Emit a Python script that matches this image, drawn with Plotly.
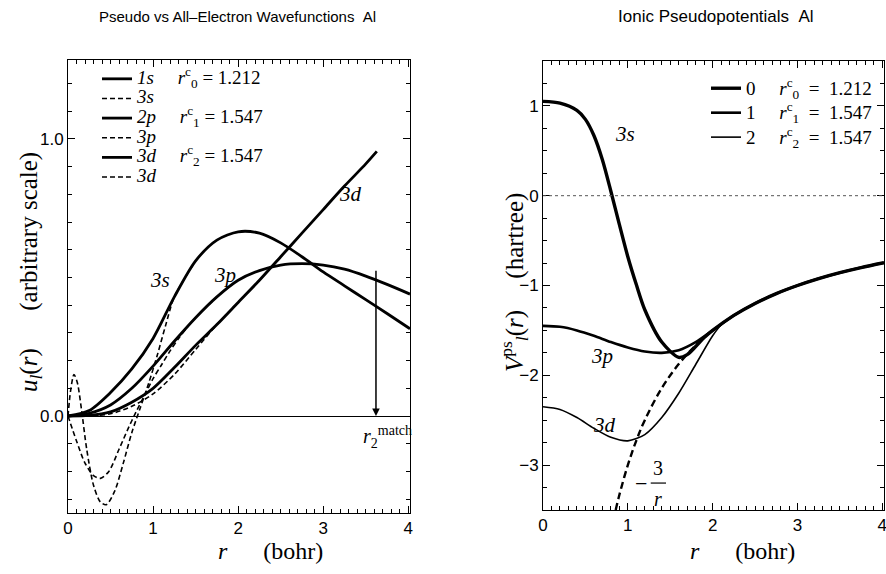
import plotly.graph_objects as go

# ---------------- Left panel: wavefunctions u_l(r) ----------------
r_3s_ps = [0, 0.25, 0.5, 0.75, 1.0, 1.25, 1.5, 1.75, 2.0, 2.25, 2.5, 2.75, 3.0, 3.25, 3.5, 3.75, 4.02]
u_3s_ps = [0, 0.02, 0.085, 0.17, 0.28, 0.43, 0.56, 0.635, 0.665, 0.66, 0.625, 0.575, 0.52, 0.47, 0.42, 0.37, 0.315]

r_3p_ps = [0, 0.25, 0.5, 0.75, 1.0, 1.25, 1.5, 1.75, 2.0, 2.25, 2.5, 2.75, 3.0, 3.25, 3.5, 3.75, 4.02]
u_3p_ps = [0, 0.01, 0.04, 0.1, 0.18, 0.27, 0.355, 0.43, 0.49, 0.525, 0.545, 0.55, 0.545, 0.53, 0.505, 0.475, 0.44]

r_3d_ps = [0, 0.25, 0.5, 0.75, 1.0, 1.25, 1.5, 1.75, 2.0, 2.25, 2.5, 2.75, 3.0, 3.25, 3.5, 3.63]
u_3d_ps = [0, 0.002, 0.015, 0.05, 0.1, 0.175, 0.255, 0.33, 0.41, 0.49, 0.575, 0.66, 0.745, 0.83, 0.91, 0.955]

r_3s_ae = [0, 0.03, 0.07, 0.11, 0.16, 0.22, 0.3, 0.38, 0.45, 0.55, 0.65, 0.75, 0.85, 0.95, 1.05, 1.15, 1.25, 1.5]
u_3s_ae = [0, 0.09, 0.15, 0.12, 0.02, -0.12, -0.25, -0.31, -0.32, -0.27, -0.17, -0.06, 0.03, 0.12, 0.22, 0.33, 0.43, 0.56]

r_3p_ae = [0, 0.1, 0.2, 0.3, 0.38, 0.48, 0.6, 0.7, 0.8, 0.9, 1.0, 1.1, 1.2, 1.3, 1.4, 1.5, 1.75]
u_3p_ae = [0, -0.09, -0.17, -0.215, -0.225, -0.2, -0.12, -0.05, 0.015, 0.075, 0.135, 0.185, 0.235, 0.28, 0.32, 0.355, 0.43]

r_3d_ae = [0, 0.25, 0.5, 0.75, 1.0, 1.25, 1.5, 1.75, 2.0]
u_3d_ae = [0, 0.0, 0.008, 0.035, 0.08, 0.15, 0.24, 0.33, 0.41]

NB = "\u00a0"
left_names = [
    f"<i>1s</i>{NB*5}<i>r</i><sup>c</sup><sub>0</sub>{NB}={NB}1.212",
    "<i>3s</i>",
    f"<i>2p</i>{NB*5}<i>r</i><sup>c</sup><sub>1</sub>{NB}={NB}1.547",
    "<i>3p</i>",
    f"<i>3d</i>{NB*5}<i>r</i><sup>c</sup><sub>2</sub>{NB}={NB}1.547",
    "<i>3d</i>",
]

# ---------------- Right panel: ionic pseudopotentials ----------------
r_v0 = [0, 0.2, 0.4, 0.5, 0.6, 0.7, 0.8, 0.9, 1.0, 1.1, 1.2, 1.4, 1.6, 1.7, 1.8, 1.9, 2.0, 2.25, 2.5, 2.75, 3.0, 3.25, 3.5, 3.75, 4.02]
v0 = [1.05, 1.03, 0.95, 0.85, 0.67, 0.4, 0.05, -0.32, -0.68, -0.99, -1.27, -1.63, -1.8, -1.77, -1.68, -1.58, -1.5, -1.333, -1.2, -1.09, -1.0, -0.923, -0.857, -0.8, -0.746]

r_v1 = [0, 0.2, 0.4, 0.6, 0.8, 1.0, 1.2, 1.4, 1.6, 1.8, 2.0, 2.25, 2.5, 2.75, 3.0, 3.25, 3.5, 3.75, 4.02]
v1 = [-1.45, -1.46, -1.5, -1.56, -1.63, -1.69, -1.735, -1.75, -1.72, -1.63, -1.5, -1.333, -1.2, -1.09, -1.0, -0.923, -0.857, -0.8, -0.746]

r_v2 = [0, 0.2, 0.4, 0.6, 0.8, 1.0, 1.2, 1.4, 1.6, 1.8, 2.0, 2.1, 2.25, 2.5, 2.75, 3.0, 3.25, 3.5, 3.75, 4.02]
v2 = [-2.35, -2.38, -2.47, -2.59, -2.69, -2.73, -2.66, -2.47, -2.2, -1.88, -1.56, -1.44, -1.335, -1.2, -1.09, -1.0, -0.923, -0.857, -0.8, -0.746]

r_coul = [0.857, 0.9, 1.0, 1.1, 1.2, 1.4, 1.6, 1.8, 2.0]
v_coul = [-3.5, -3.333, -3.0, -2.727, -2.5, -2.143, -1.875, -1.667, -1.5]

right_names = [
    f"0{NB*5}<i>r</i><sup>c</sup><sub>0</sub>{NB*2}={NB*2}1.212",
    f"1{NB*5}<i>r</i><sup>c</sup><sub>1</sub>{NB*2}={NB*2}1.547",
    f"2{NB*5}<i>r</i><sup>c</sup><sub>2</sub>{NB*2}={NB*2}1.547",
]

W, H = 886, 574
SERIF = "Liberation Serif, Times New Roman, serif"
SANS = "Liberation Sans, Arial, sans-serif"
NARROW = "Liberation Sans Narrow, Liberation Sans, Arial, sans-serif"


def span(t, size=19):
    return f"<span style='font-size:{size}px'>{t}</span>"


fig = go.Figure()

left_sets = [
    (r_3s_ps, u_3s_ps, 2.8, "solid"),
    (r_3s_ae, u_3s_ae, 1.6, "5px,3px"),
    (r_3p_ps, u_3p_ps, 2.8, "solid"),
    (r_3p_ae, u_3p_ae, 1.6, "5px,3px"),
    (r_3d_ps, u_3d_ps, 2.8, "solid"),
    (r_3d_ae, u_3d_ae, 1.6, "5px,3px"),
]
for (xs, ys, w, d), nm in zip(left_sets, left_names):
    fig.add_trace(go.Scatter(
        x=xs, y=ys, mode="lines", name=span(nm),
        line=dict(color="black", width=w, dash=d, shape="spline", smoothing=0.8),
        xaxis="x", yaxis="y", legend="legend", hoverinfo="skip"))

right_sets = [(r_v0, v0, 3.4), (r_v1, v1, 2.6), (r_v2, v2, 1.6)]
for (xs, ys, w), nm in zip(right_sets, right_names):
    fig.add_trace(go.Scatter(
        x=xs, y=ys, mode="lines", name=span(nm),
        line=dict(color="black", width=w, shape="spline", smoothing=0.8),
        xaxis="x2", yaxis="y2", legend="legend2", hoverinfo="skip"))

fig.add_trace(go.Scatter(
    x=r_coul, y=v_coul, mode="lines", showlegend=False,
    line=dict(color="black", width=2.4, dash="7px,4px", shape="spline"),
    xaxis="x2", yaxis="y2", hoverinfo="skip"))

axis_common = dict(
    showline=True, linecolor="black", linewidth=1, mirror="ticks",
    ticks="inside", ticklen=7, tickwidth=1, tickcolor="black",
    showgrid=False, automargin=False, ticklabeloverflow="allow",
    tickfont=dict(family=NARROW, size=17, color="black"),
)


def minor(dt):
    return dict(ticks="inside", ticklen=4, tickwidth=1, tickcolor="black", dtick=dt, showgrid=False)


fig.update_layout(
    width=W, height=H,
    margin=dict(l=0, r=0, t=0, b=0),
    plot_bgcolor="white", paper_bgcolor="white",
    xaxis=dict(domain=[68 / W, 410 / W], range=[0, 4.02], dtick=1, tick0=0,
               minor=minor(0.1), zeroline=False, anchor="y", **axis_common),
    yaxis=dict(domain=[1 - 513 / H, 1 - 60 / H], range=[-0.35, 1.285], dtick=1, tick0=0,
               tickformat=".1f", minor=minor(0.1), zeroline=True, zerolinecolor="black",
               zerolinewidth=1, anchor="x", **axis_common),
    xaxis2=dict(domain=[543 / W, 884 / W], range=[0, 4.02], dtick=1, tick0=0,
                minor=minor(0.1), zeroline=False, anchor="y2", **axis_common),
    yaxis2=dict(domain=[1 - 510 / H, 1 - 61 / H], range=[-3.5, 1.5], dtick=1, tick0=0,
                minor=minor(0.25), zeroline=False, anchor="x2", **axis_common),
    legend=dict(x=97 / W, y=1 - 64 / H, xanchor="left", yanchor="top",
                bgcolor="rgba(0,0,0,0)", font=dict(family=SERIF, size=12.8, color="black"),
                tracegroupgap=0),
    legend2=dict(x=706 / W, y=1 - 71 / H, xanchor="left", yanchor="top",
                 bgcolor="rgba(0,0,0,0)", font=dict(family=SERIF, size=16.5, color="black"),
                 tracegroupgap=0),
    showlegend=True,
)

# dotted zero line in right panel
fig.add_shape(type="line", xref="x2 domain", x0=0, x1=1, yref="y2", y0=0, y1=0,
              line=dict(color="#555555", width=1, dash="dot"))


def A(text, x, y, size, family=SERIF, xref="paper", yref="paper", **kw):
    d = dict(text=text, x=x, y=y, xref=xref, yref=yref, showarrow=False,
             xanchor="center", yanchor="middle",
             font=dict(family=family, size=size, color="black"))
    d.update(kw)
    return d


ann = []
# titles
ann.append(A("Pseudo vs All\u2013Electron Wavefunctions\u00a0\u00a0Al", 237 / W, 1 - 17 / H, 15, SANS))
ann.append(A("Ionic Pseudopotentials\u00a0\u00a0Al", 716 / W, 1 - 17 / H, 17, SANS))
# axis titles
ann.append(A(f"<i>r</i>{NB*6}(bohr)", 270 / W, 1 - 551 / H, 24))
ann.append(A(f"<i>r</i>{NB*6}(bohr)", 742 / W, 1 - 551 / H, 24))
ann.append(A(f"<i>u<sub>l</sub></i>(<i>r</i>){NB*6}(arbitrary scale)", 30 / W, 1 - 272 / H, 25,
             textangle=-90))
ann.append(A(f"<i>V</i><sup>ps</sup><sub><i>l</i></sub>(<i>r</i>){NB*5}(hartree)", 514 / W, 1 - 283 / H, 25,
             textangle=-90))

# curve labels, left
for t, x, y in [("3s", 1.08, 0.49), ("3p", 1.85, 0.51), ("3d", 3.32, 0.80)]:
    ann.append(A(f"<i>{t}</i>", x, y, 21, xref="x", yref="y"))
# r_match arrow
ann.append(dict(x=3.62, y=0.0, ax=3.62, ay=0.53, xref="x", yref="y", axref="x", ayref="y",
                text="", showarrow=True, arrowhead=2, arrowsize=1, arrowwidth=1.5, arrowcolor="black"))
ann.append(A("<i>r</i><sub>2</sub><sup>match</sup>", 3.76, -0.075, 20, xref="x", yref="y"))

# curve labels, right
for t, x, y in [("3s", 0.965, 0.69), ("3p", 0.70, -1.79), ("3d", 0.73, -2.55)]:
    ann.append(A(f"<i>{t}</i>", x, y, 21, xref="x2", yref="y2"))
# -3/r label
ann.append(A("\u2212", 1.15, -3.2, 22, xref="x2", yref="y2"))
ann.append(A("3", 1.36, -3.03, 20, xref="x2", yref="y2"))
ann.append(A("<i>r</i>", 1.36, -3.38, 20, xref="x2", yref="y2"))
fig.update_layout(annotations=ann)
fig.add_shape(type="line", xref="x2", yref="y2", x0=1.27, x1=1.45, y0=-3.2, y1=-3.2,
              line=dict(color="black", width=1.2))

fig.write_html("out.html", config={"displayModeBar": False},
               post_script="document.body.style.margin='0px';")
